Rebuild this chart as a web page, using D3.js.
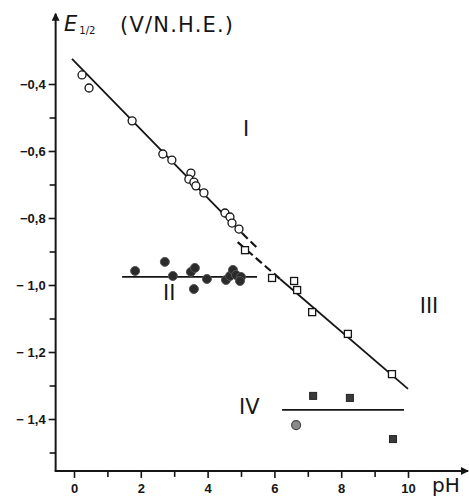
<!DOCTYPE html>
<html><head><meta charset="utf-8">
<script src="https://cdn.jsdelivr.net/npm/d3@7"></script>
<style>
html,body{margin:0;padding:0;background:#fff;}
svg{display:block;}
</style></head>
<body>
<svg id="chart" width="469" height="500"></svg>
<script>
// ---- data ----
const yMajorTicks = [-0.4, -0.6, -0.8, -1.0, -1.2, -1.4];
const yMinorTicks = [-0.5, -0.7, -0.9, -1.1, -1.3, -1.5];
const yTickLabels = ["\u22120,4", "\u22120,6", "\u22120,8", "\u2212 1,0", "\u2212 1,2", "\u2212 1,4"];
const xMajorTicks = [0, 2, 4, 6, 8, 10];
const xMinorTicks = [1, 3, 5, 7, 9];
const xTickLabels = ["0", "2", "4", "6", "8", "10"];

// series I : open circles (pH, E1/2)
const circlesPH = [0.24, 0.45, 1.74, 2.66, 2.93, 3.50, 3.44, 3.59, 3.65, 3.89, 4.52, 4.67, 4.73, 4.94];
const circlesE  = [-0.373, -0.412, -0.510, -0.609, -0.627, -0.666, -0.684, -0.693, -0.704, -0.725, -0.785, -0.797, -0.815, -0.833];
// series II : filled circles
const filledPH = [1.83, 2.72, 2.96, 3.50, 3.62, 3.59, 3.98, 4.55, 4.67, 4.76, 4.85, 5.00, 4.97];
const filledE  = [-0.958, -0.931, -0.973, -0.961, -0.949, -1.012, -0.982, -0.985, -0.973, -0.955, -0.970, -0.976, -0.988];
// series III : open squares
const squaresPH = [5.12, 5.93, 6.59, 6.68, 7.13, 8.20, 9.52];
const squaresE  = [-0.896, -0.979, -0.988, -1.015, -1.081, -1.146, -1.266];
// series IV : filled squares + grey point
const filledSqPH = [7.16, 8.26, 9.55];
const filledSqE  = [-1.331, -1.337, -1.460];
const greyPH = [6.65];
const greyE  = [-1.418];

// fitted lines [pH, E]
const lineI_solid  = [[-0.06, -0.325], [5.03, -0.845]];
const lineI_dash   = [[5.03, -0.845], [5.48, -0.889]];
const lineIII_dash = [[4.90, -0.872], [6.17, -0.982]];
const lineIII_solid= [[6.17, -0.982], [10.0, -1.310]];
const lineII = [[1.44, -0.976], [5.48, -0.976]];
const lineIV = [[6.23, -1.373], [9.88, -1.373]];

const regionLabels = [
  {t: "I",   ph: 5.15, e: -0.555},
  {t: "II",  ph: 2.85, e: -1.045},
  {t: "III", ph: 10.63, e: -1.085},
  {t: "IV",  ph: 5.25, e: -1.385}
];
const xDomainExt = [-0.55, 11.8];
const yDomainExt = [-1.555, -0.19];

// ---- scales ----
const x = d3.scaleLinear().domain([0, 10]).range([74, 408]);
const y = d3.scaleLinear().domain([-0.4, -1.4]).range([84, 419]);

const svg = d3.select("#chart");
const ink = "#151515";

const defs = svg.append("defs");
defs.append("marker").attr("id", "arr").attr("viewBox", "0 0 10 10")
  .attr("refX", 9).attr("refY", 5).attr("markerWidth", 10).attr("markerHeight", 8)
  .attr("markerUnits", "userSpaceOnUse").attr("orient", "auto")
  .append("path").attr("d", "M0,0 L10,5 L0,10 Z").attr("fill", ink);

// axes lines
svg.append("line")
  .attr("x1", x(xDomainExt[0])).attr("x2", x(xDomainExt[0]))
  .attr("y1", y(yDomainExt[0])).attr("y2", y(yDomainExt[1]))
  .attr("stroke", ink).attr("stroke-width", 2).attr("marker-end", "url(#arr)");
svg.append("line")
  .attr("x1", x(xDomainExt[0]) - 1).attr("x2", x(xDomainExt[1]))
  .attr("y1", y(yDomainExt[0])).attr("y2", y(yDomainExt[0]))
  .attr("stroke", ink).attr("stroke-width", 2).attr("marker-end", "url(#arr)");

// y axis ticks
const yAxisG = svg.append("g").attr("transform", `translate(${x(xDomainExt[0])},0)`);
yAxisG.call(d3.axisLeft(y).tickValues(yMajorTicks)
  .tickFormat((d, i) => yTickLabels[i]).tickSize(7).tickPadding(3));
yAxisG.select(".domain").remove();
yAxisG.selectAll(".tick line").attr("stroke", ink).attr("stroke-width", 1.6);
yAxisG.selectAll(".tick text").attr("font-family", "'Liberation Sans', Arial, sans-serif")
  .attr("font-weight", "bold").attr("font-size", 13).attr("fill", ink);
const yMinorG = svg.append("g").attr("transform", `translate(${x(xDomainExt[0])},0)`);
yMinorG.call(d3.axisLeft(y).tickValues(yMinorTicks).tickFormat("").tickSize(6));
yMinorG.select(".domain").remove();
yMinorG.selectAll(".tick line").attr("stroke", ink).attr("stroke-width", 1.6);

// x axis ticks
const xAxisG = svg.append("g").attr("transform", `translate(0,${y(yDomainExt[0])})`);
xAxisG.call(d3.axisBottom(x).tickValues(xMajorTicks)
  .tickFormat((d, i) => xTickLabels[i]).tickSize(7).tickPadding(6));
xAxisG.select(".domain").remove();
xAxisG.selectAll(".tick line").attr("stroke", ink).attr("stroke-width", 1.6);
xAxisG.selectAll(".tick text").attr("font-family", "'Liberation Sans', Arial, sans-serif")
  .attr("font-weight", "bold").attr("font-size", 13).attr("fill", ink);
const xMinorG = svg.append("g").attr("transform", `translate(0,${y(yDomainExt[0])})`);
xMinorG.call(d3.axisBottom(x).tickValues(xMinorTicks).tickFormat("").tickSize(6));
xMinorG.select(".domain").remove();
xMinorG.selectAll(".tick line").attr("stroke", ink).attr("stroke-width", 1.6);

// axis titles
svg.append("text").attr("x", 432).attr("y", 492)
  .attr("font-family", "'DejaVu Sans', sans-serif").attr("font-size", 20).attr("fill", ink)
  .text("pH");
const yt = svg.append("text").attr("x", 64).attr("y", 31)
  .attr("font-family", "'DejaVu Sans', sans-serif").attr("fill", ink);
yt.append("tspan").attr("font-style", "italic").attr("font-size", 21).text("E");
yt.append("tspan").attr("font-size", 10).attr("dx", 2).attr("dy", 3).text("1/2");
svg.append("text").attr("x", 120).attr("y", 32)
  .attr("font-family", "'DejaVu Sans', sans-serif").attr("font-size", 21)
  .attr("letter-spacing", 1.2).attr("fill", ink)
  .text("(V/N.H.E.)");

// lines
const lg = d3.line().x(d => x(d[0])).y(d => y(d[1]));
[lineI_solid, lineIII_solid, lineII, lineIV].forEach(l => {
  svg.append("path").attr("d", lg(l)).attr("fill", "none")
    .attr("stroke", ink).attr("stroke-width", 1.8);
});
[lineI_dash, lineIII_dash].forEach(l => {
  svg.append("path").attr("d", lg(l)).attr("fill", "none")
    .attr("stroke", ink).attr("stroke-width", 2.2).attr("stroke-dasharray", "8,4");
});

// open circles
svg.append("g").selectAll("circle").data(circlesPH).join("circle")
  .attr("cx", (d) => x(d)).attr("cy", (d, i) => y(circlesE[i])).attr("r", 4)
  .attr("fill", "#fff").attr("stroke", ink).attr("stroke-width", 1.3);

// filled circles
svg.append("g").selectAll("circle").data(filledPH).join("circle")
  .attr("cx", (d) => x(d)).attr("cy", (d, i) => y(filledE[i])).attr("r", 4.5)
  .attr("fill", "#2b2b2b").attr("stroke", "#555").attr("stroke-width", 1);

// open squares
const sq = 7;
svg.append("g").selectAll("rect").data(squaresPH).join("rect")
  .attr("x", d => x(d) - sq / 2).attr("y", (d, i) => y(squaresE[i]) - sq / 2)
  .attr("width", sq).attr("height", sq)
  .attr("fill", "#fff").attr("stroke", ink).attr("stroke-width", 1.3);

// filled squares
svg.append("g").selectAll("rect").data(filledSqPH).join("rect")
  .attr("x", d => x(d) - 3.5).attr("y", (d, i) => y(filledSqE[i]) - 3.5)
  .attr("width", 7).attr("height", 7)
  .attr("fill", "#3a3a3a").attr("stroke", "#222").attr("stroke-width", 1);

// grey point
svg.append("g").selectAll("circle").data(greyPH).join("circle")
  .attr("cx", d => x(d)).attr("cy", (d, i) => y(greyE[i])).attr("r", 4.5)
  .attr("fill", "#8a8a8a").attr("stroke", "#444").attr("stroke-width", 1.2);

// region labels
svg.append("g").selectAll("text").data(regionLabels).join("text")
  .attr("x", d => x(d.ph)).attr("y", d => y(d.e))
  .attr("text-anchor", "middle")
  .attr("font-family", "'DejaVu Sans', sans-serif").attr("font-size", 21)
  .attr("fill", ink).text(d => d.t);
</script>
</body></html>
